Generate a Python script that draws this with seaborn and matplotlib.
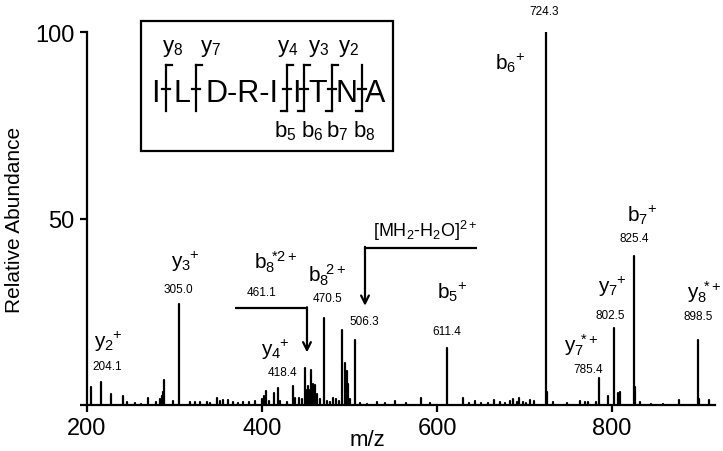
import numpy as np
import pandas as pd
import matplotlib
matplotlib.use("Agg")
import matplotlib.pyplot as plt
import seaborn as sns

# ==== spectrum peaks (m/z, relative abundance) ====
peak_mz = [204.2, 215.6, 227.0, 241.5, 245.3, 254.9, 262.0, 269.3, 278.9, 283.4,
           285.3, 286.8, 288.0, 298.7, 305.0, 317.7, 323.4, 329.0, 336.8, 341.0,
           348.2, 352.0, 355.8, 361.5, 367.2, 372.0, 378.0, 385.0, 392.0, 399.6,
           402.3, 404.2, 408.0, 413.7, 418.4, 421.0, 428.0, 435.8, 437.7, 442.7,
           446.0, 449.1, 450.5, 452.2, 454.0, 456.0, 458.3, 461.0, 463.2, 466.0,
           470.5, 474.0, 478.0, 481.5, 484.0, 488.0, 491.8, 494.9, 496.8, 498.7,
           501.0, 506.3, 512.0, 520.0, 531.0, 540.0, 552.0, 565.0, 581.4, 592.0,
           611.4, 629.4, 636.0, 643.4, 650.0, 658.0, 665.0, 672.0, 678.0, 683.4,
           687.2, 691.0, 694.0, 697.9, 702.0, 706.3, 710.9, 724.3, 725.3, 733.0,
           748.0, 763.4, 769.0, 772.9, 781.4, 785.4, 795.8, 802.5, 807.2, 809.0,
           825.4, 826.4, 832.0, 845.0, 858.0, 876.6, 898.5, 899.5, 910.9]
peak_int = [4.7, 6.1, 2.9, 2.4, 0.7, 0.5, 0.4, 2.0, 0.7, 1.6,
            2.5, 3.5, 6.6, 1.1, 27.0, 0.9, 0.8, 0.7, 0.8, 0.6,
            1.8, 1.2, 1.3, 1.4, 0.9, 0.6, 0.7, 0.8, 1.0, 1.6,
            2.5, 3.7, 1.0, 3.1, 4.5, 1.2, 0.8, 5.0, 2.0, 1.9,
            1.5, 9.9, 4.0, 5.2, 4.0, 9.4, 5.6, 5.4, 3.0, 1.5,
            23.3, 1.0, 0.9, 1.9, 1.5, 1.2, 20.2, 11.3, 9.2, 5.6,
            1.5, 17.3, 0.5, 0.4, 0.8, 0.5, 1.0, 0.5, 1.8, 0.5,
            15.2, 1.8, 0.5, 1.2, 0.6, 0.5, 1.4, 0.7, 0.6, 1.1,
            1.6, 0.8, 1.9, 0.9, 0.6, 1.3, 1.1, 100.0, 3.4, 0.8,
            0.5, 1.1, 0.7, 0.7, 0.9, 7.2, 2.3, 20.6, 3.2, 3.4,
            40.0, 4.7, 0.9, 0.4, 0.4, 1.4, 17.4, 1.6, 1.3]

# ion labels and m/z value labels
ion_text = [r'$\mathregular{y_2\!{}^+}$', r'$\mathregular{y_3\!{}^+}$', r'$\mathregular{b_8\!{}^{*2+}}$',
            r'$\mathregular{b_8\!{}^{2+}}$', r'$\mathregular{y_4\!{}^+}$', r'$\mathregular{b_5\!{}^+}$',
            r'$\mathregular{b_6\!{}^+}$', r'$\mathregular{y_7\!{}^{*+}}$', r'$\mathregular{y_7\!{}^+}$',
            r'$\mathregular{b_7\!{}^+}$', r'$\mathregular{y_8\!{}^{*+}}$']
ion_x = [224.0, 312.0, 416.0, 474.3, 414.9, 617.1, 683.4, 764.6, 800.0, 834.3, 904.9]
ion_y = [17.2, 38.6, 38.6, 34.9, 15.0, 30.6, 92.0, 16.4, 31.9, 51.2, 30.6]

mz_text = ['204.1', '305.0', '461.1', '470.5', '418.4', '506.3', '611.4',
           '724.3', '785.4', '802.5', '825.4', '898.5']
mz_x = [222.9, 304.0, 400.0, 475.4, 422.9, 516.6, 611.1, 722.6, 772.9, 798.5, 825.1, 898.6]
mz_y = [10.5, 31.1, 30.3, 28.7, 8.9, 22.6, 19.9, 105.5, 9.7, 24.1, 44.7, 23.9]

# peptide sequence pieces and fragment sites in the inset
residues = ['I', 'L', 'D-R-I', 'I', 'T', 'N', 'A']
y_ions = ['y8', 'y7', 'y4', 'y3', 'y2']
b_ions = ['b5', 'b6', 'b7', 'b8']

sns.set_theme(style="ticks")
plt.rcParams['font.family'] = ['Liberation Sans', 'DejaVu Sans']
plt.rcParams['mathtext.fontset'] = 'custom'
plt.rcParams['mathtext.rm'] = 'Liberation Sans'
plt.rcParams['text.color'] = 'black'
plt.rcParams['axes.labelcolor'] = 'black'

W, H = 723, 452
fig = plt.figure(figsize=(W / 100, H / 100), dpi=100)
ax = fig.add_axes([87 / W, 1 - 406 / H, 628 / W, 373 / H])

# stick spectrum: one two-point line per peak
rows = []
for i, (m, v) in enumerate(zip(peak_mz, peak_int)):
    rows.append((i, m, 0.0))
    rows.append((i, m, v))
spec = pd.DataFrame(rows, columns=["peak", "mz", "intensity"])
sns.lineplot(data=spec, x="mz", y="intensity", units="peak", estimator=None,
             sort=False, color="black", linewidth=1.6, ax=ax, legend=False)

ax.set_xlim(200, 917.7)
ax.set_ylim(0, 100)
for s in ["top", "right"]:
    ax.spines[s].set_visible(False)
for s in ["left", "bottom"]:
    ax.spines[s].set_linewidth(1.6)
    ax.spines[s].set_color("black")
ax.set_xticks([200, 400, 600, 800])
ax.set_yticks([0, 50, 100])
ax.set_yticklabels(["", "50", "100"])
ax.tick_params(direction="out", length=5, width=1.6, labelsize=17, pad=4, colors="black")

ax.set_xlabel("m/z", fontsize=16)
ax.set_ylabel("Relative Abundance", fontsize=15)
ax.xaxis.set_label_coords((367 - 87) / 628, (406 - 441) / 373)
ax.xaxis.label.set_verticalalignment("center")
ax.yaxis.set_label_coords((15 - 87) / 628, (406 - 220) / 373)
ax.yaxis.label.set_verticalalignment("center")

for t, x, y in zip(ion_text, ion_x, ion_y):
    ax.text(x, y, t, fontsize=15, ha="center", va="center")
for t, x, y in zip(mz_text, mz_x, mz_y):
    ax.text(x, y, t, fontsize=8.5, ha="center", va="center")

ax.text(586.3, 46.9, r"[MH$\mathregular{_2}$-H$\mathregular{_2}$O]$\mathregular{^{2+}}$",
        fontsize=13, ha="center", va="center")

# precursor arrows
arrow = dict(arrowstyle="->", lw=1.6, color="black", shrinkA=0, shrinkB=0, mutation_scale=14)
ax.plot([369.1, 451.4], [25.9, 25.9], color="black", lw=1.6, solid_capstyle="butt")
ax.annotate("", xy=(451.4, 14.1), xytext=(451.4, 26.2), arrowprops=arrow)
ax.plot([645.7, 517.7], [42.1, 42.1], color="black", lw=1.6, solid_capstyle="butt")
ax.annotate("", xy=(517.7, 26.6), xytext=(517.7, 42.4), arrowprops=arrow)

# ==== inset with the sequence (figure pixel coordinates) ====
def fx(px):
    return px / W

def fy(py):
    return 1 - py / H

box = plt.Rectangle((fx(140.7), fy(151.7)), (393 - 140.7) / W, (151.7 - 21.7) / H,
                    transform=fig.transFigure, fill=False, lw=1.6, ec="black")
fig.add_artist(box)

res_px = [155.5, 182.5, 242.5, 296.5, 317.5, 347, 375.5]
for r, px in zip(residues, res_px):
    fig.text(fx(px), fy(102), r, fontsize=22, ha="center", va="baseline")

site_px = {"y8": 166, "y7": 196, "y4": 287, "y3": 304, "y2": 332,
           "b5": 287, "b6": 304, "b7": 332, "b8": 362}
label_px = {"y8": 172.5, "y7": 211, "y4": 287.5, "y3": 318.5, "y2": 349,
            "b5": 285, "b6": 312, "b7": 337, "b8": 364}


def seg(x0, y0, x1, y1):
    fig.add_artist(plt.Line2D([fx(x0), fx(x1)], [fy(y0), fy(y1)], transform=fig.transFigure,
                              color="black", lw=1.6, solid_capstyle="projecting"))


for s in sorted(set(site_px.values())):
    seg(s, 66, s, 112)
    seg(s - 4, 90, s + 4, 90)
for k in y_ions:
    s = site_px[k]
    seg(s, 66, s + 6, 66)
    fig.text(fx(label_px[k]), fy(52), r"$\mathregular{%s_%s}$" % (k[0], k[1]),
             fontsize=16, ha="center", va="baseline")
for k in b_ions:
    s = site_px[k]
    seg(s - 6, 112, s, 112)
    fig.text(fx(label_px[k]), fy(137), r"$\mathregular{%s_%s}$" % (k[0], k[1]),
             fontsize=16, ha="center", va="baseline")

fig.savefig("out.png", dpi=100)
